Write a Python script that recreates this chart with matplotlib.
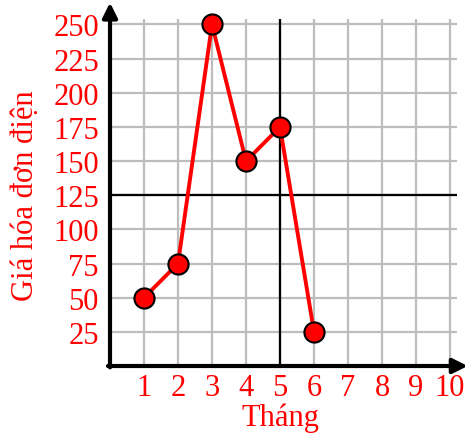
import matplotlib.pyplot as plt

# du lieu
thang = [1, 2, 3, 4, 5, 6]
gia = [50, 75, 250, 150, 175, 25]
x_ticks = list(range(1, 11))
y_ticks = list(range(25, 251, 25))

plt.rcParams['font.family'] = ['Liberation Serif', 'DejaVu Serif']

fig = plt.figure(figsize=(4.69, 4.39), dpi=100)
# axes: left at 110px, bottom at 72px
ax = fig.add_axes([110 / 469, 72 / 439, 357 / 469, 362 / 439])
ax.set_xlim(0, 10.5)
ax.set_ylim(0, 265)

# luoi
ax.vlines(x_ticks, 0, 254, color='#bdbdbd', lw=1.6, zorder=1)
ax.hlines(y_ticks, 0, 10.2, color='#bdbdbd', lw=1.6, zorder=1)

# duong den x=5, y=125
ax.vlines(5, 0, 254, color='black', lw=1.6, zorder=2)
ax.hlines(125, 0, 10.2, color='black', lw=1.6, zorder=2)

# truc co mui ten
arrow = dict(arrowstyle='-|>', lw=3, color='black', mutation_scale=22,
             shrinkA=0, shrinkB=0)
ax.annotate('', xy=(10.52, 0), xytext=(-0.06, 0), arrowprops=arrow,
            annotation_clip=False, zorder=5)
ax.annotate('', xy=(0, 266), xytext=(0, -1), arrowprops=arrow,
            annotation_clip=False, zorder=5)

ax.plot(thang, gia, color='red', lw=2.8, marker='o', markersize=14.5,
        markerfacecolor='red', markeredgecolor='black', markeredgewidth=1.5,
        zorder=4, clip_on=False)

for s in ax.spines.values():
    s.set_visible(False)

ax.set_xticks(x_ticks)
ax.set_xticklabels([str(v) for v in x_ticks])
ax.set_yticks(y_ticks)
ax.set_yticklabels([str(v) for v in y_ticks])
ax.tick_params(axis='both', length=0, labelcolor='red', labelsize=22)
ax.tick_params(axis='x', pad=5)
ax.tick_params(axis='y', pad=8)

ax.set_xlabel('Tháng', color='red', fontsize=22, labelpad=-6)
ax.xaxis.set_label_coords(5 / 10.5, -0.1)
ax.set_ylabel('Giá hóa đơn điện', color='red', fontsize=22)
ax.yaxis.set_label_coords(-0.196, 0.472)

fig.savefig('out.png', dpi=100)
